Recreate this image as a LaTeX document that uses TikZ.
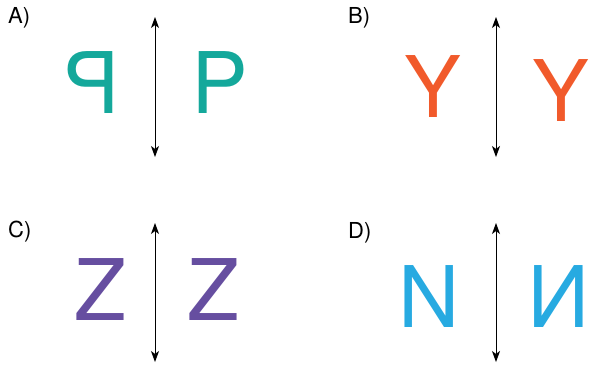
\documentclass[tikz,border=0pt]{standalone}
\usepackage{fontspec}
\setmainfont{TeX Gyre Heros}
\usepackage{graphicx}
\usepackage{xcolor}
\usepackage{tikz}
\usetikzlibrary{arrows.meta}
\definecolor{tealA}{RGB}{20,168,155}
\definecolor{orangeB}{RGB}{241,90,43}
\definecolor{purpleC}{RGB}{102,78,160}
\definecolor{blueD}{RGB}{39,170,225}

\begin{document}
\begin{tikzpicture}[x=1pt, y=-1pt,
		glyph/.style={inner sep=0pt, anchor=base, font=\fontsize{85}{85}\selectfont},
		tag/.style={inner sep=0pt, anchor=base west, font=\fontsize{22}{22}\selectfont},
		mirror/.style={<->, line width=0.8pt, >={Stealth[length=11pt, width=8pt, inset=3pt]}}]
			\useasboundingbox (0, 0) rectangle (590, 368);
			
			% A
			\node[tag] at (8, 23) (labA) {A)};
			\node[glyph, text=tealA] at (92, 113) (pLeft) {\reflectbox{P}};
			\node[glyph, text=tealA] at (219.5, 113) (pRight) {P};
			\coordinate (aTop) at (155, 17);
			\coordinate (aBot) at (155, 157);
			\draw[mirror] (aTop) -- (aBot);
			
			% B
			\node[tag] at (348, 23) (labB) {B)};
			\node[glyph, text=orangeB] at (432.5, 117) (yLeft) {Y};
			\node[glyph, text=orangeB] at (560.5, 121) (yRight) {Y};
			\coordinate (bTop) at (496, 17);
			\coordinate (bBot) at (496, 157);
			\draw[mirror] (bTop) -- (bBot);
			
			% C
			\node[tag] at (8, 237) (labC) {C)};
			\node[glyph, text=purpleC] at (100, 320) (zLeft) {Z};
			\node[glyph, text=purpleC] at (213, 320) (zRight) {Z};
			\coordinate (cTop) at (155, 223);
			\coordinate (cBot) at (155, 362);
			\draw[mirror] (cTop) -- (cBot);
			
			% D
			\node[tag] at (348, 238) (labD) {D)};
			\node[glyph, text=blueD] at (429, 327) (nLeft) {N};
			\node[glyph, text=blueD] at (559, 327) (nRight) {\reflectbox{N}};
			\coordinate (dTop) at (496, 223);
			\coordinate (dBot) at (496, 362);
			\draw[mirror] (dTop) -- (dBot);
			
		\end{tikzpicture}
\end{document}
